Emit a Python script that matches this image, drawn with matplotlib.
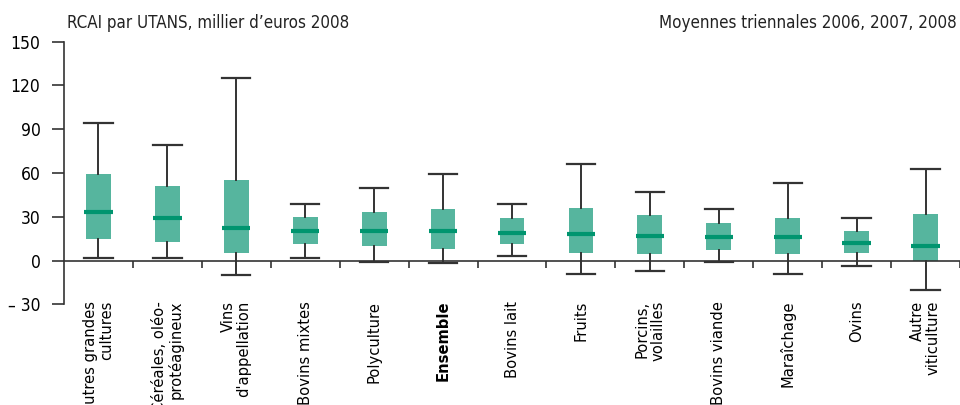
import matplotlib
matplotlib.use("Agg")
import matplotlib.pyplot as plt
from matplotlib.ticker import FixedLocator

plt.rcParams["font.family"] = ["DejaVu Sans"]
plt.rcParams["font.stretch"] = "condensed"

categories = [
    "Autres grandes\ncultures", "Céréales, oléo-\nprotéagineux", "Vins\nd'appellation",
    "Bovins mixtes", "Polyculture", "Ensemble", "Bovins lait", "Fruits",
    "Porcins,\nvolailles", "Bovins viande", "Maraîchage", "Ovins", "Autre\nviticulture",
]
whisker_high = [94, 79, 125, 39, 50, 59, 39, 66, 47, 35, 53, 29, 63]
q3 = [59, 51, 55, 30, 33, 35, 29, 36, 31, 26, 29, 20, 32]
median = [33, 29, 22, 20, 20, 20, 19, 18, 17, 16, 16, 12, 10]
q1 = [15, 13, 5, 11, 10, 8, 11, 5, 4.5, 7, 4.5, 5, 0]
whisker_low = [2, 2, -10, 2, -1, -2, 3, -9, -7, -1, -9, -4, -20]
yticks = [-30, 0, 30, 60, 90, 120, 150]
ytick_labels = ["– 30", "0", "30", "60", "90", "120", "150"]

BOX = "#56B59E"
MED = "#00956F"
LINE = "#333333"

fig = plt.figure(figsize=(9.6, 4.05), dpi=100)
ax = fig.add_axes([64 / 960, 1 - 304.3 / 405, 1 - 64 / 960, (304.3 - 41.7) / 405])

stats = [
    {"whislo": lo, "q1": a, "med": m, "q3": b, "whishi": hi, "fliers": []}
    for lo, a, m, b, hi in zip(whisker_low, q1, median, q3, whisker_high)
]
pos = list(range(len(categories)))
ax.bxp(stats, positions=pos, widths=0.36, capwidths=0.41, patch_artist=True,
       showfliers=False,
       boxprops=dict(facecolor=BOX, edgecolor="none", linewidth=0),
       whiskerprops=dict(color=LINE, linewidth=1.4),
       capprops=dict(color=LINE, linewidth=1.6),
       medianprops=dict(visible=False))
# median bar is as wide as the caps
ax.hlines(median, [p - 0.205 for p in pos], [p + 0.205 for p in pos],
          color=MED, linewidth=3, zorder=4)

ax.set_xlim(-0.5, len(categories) - 0.5)
ax.set_ylim(-30, 150)
ax.set_yticks(yticks)
ax.set_yticklabels(ytick_labels, fontsize=12.5)
ax.tick_params(axis="y", direction="out", length=9, width=1.2, color=LINE, pad=8)

ax.spines["top"].set_visible(False)
ax.spines["right"].set_visible(False)
ax.spines["left"].set_color(LINE)
ax.spines["left"].set_linewidth(1.2)
ax.spines["bottom"].set_position(("data", 0))
ax.spines["bottom"].set_color(LINE)
ax.spines["bottom"].set_linewidth(1.2)

ax.set_xticks(pos)
ax.set_xticklabels(categories, rotation=90, ha="center", va="top",
                   multialignment="right", fontsize=11.8, linespacing=1.05)
for lbl in ax.get_xticklabels():
    if lbl.get_text() == "Ensemble":
        lbl.set_fontweight("bold")
ax.tick_params(axis="x", which="major", length=0, pad=29)
ax.xaxis.set_minor_locator(FixedLocator([p + 0.5 for p in pos]))
ax.tick_params(axis="x", which="minor", direction="out", length=5, width=1.2, color=LINE)
ax.grid(False)

fig.text(67 / 960, 1 - 28 / 405, "RCAI par UTANS, millier d’euros 2008",
         fontsize=12.2, va="baseline", ha="left", color="#222222")
fig.text(957 / 960, 1 - 28 / 405, "Moyennes triennales 2006, 2007, 2008",
         fontsize=12.2, va="baseline", ha="right", color="#222222")

fig.savefig("out.png", dpi=100)
